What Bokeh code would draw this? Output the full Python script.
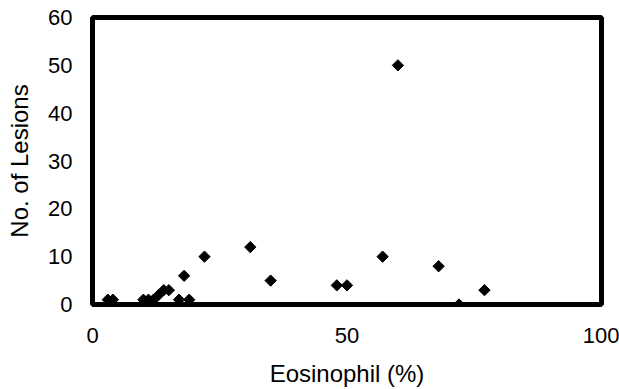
from bokeh.plotting import figure
from bokeh.models import FixedTicker, Range1d
from bokeh.embed import file_html
from bokeh.resources import INLINE
import math

# Data
eosinophil_pct = [3, 4, 10, 11, 12, 13, 14, 15, 17, 19,
                  18, 22, 31, 35, 48, 50, 57, 60, 68, 72, 77]
num_lesions = [1, 1, 1, 1, 1, 2, 3, 3, 1, 1,
               6, 10, 12, 5, 4, 4, 10, 50, 8, 0, 3]

x_ticks = [0, 50, 100]
y_ticks = [0, 10, 20, 30, 40, 50, 60]

FONT = "Liberation Sans"

p = figure(width=619, height=389, output_backend="svg", toolbar_location=None,
           x_range=Range1d(0, 100), y_range=Range1d(0, 60),
           min_border_left=92, min_border_right=18, min_border_top=17, min_border_bottom=81)

p.scatter(eosinophil_pct, num_lesions, marker="square", angle=math.pi / 4, size=8,
          fill_color="black", line_color="black")

p.grid.visible = False
p.outline_line_color = "black"
p.outline_line_width = 5
p.outline_line_alpha = 1.0

for ax in (p.xaxis[0], p.yaxis[0]):
    ax.axis_line_color = None
    ax.major_tick_line_color = None
    ax.minor_tick_line_color = None
    ax.major_label_text_font = FONT
    ax.major_label_text_font_size = "22px"
    ax.major_label_text_color = "black"
    ax.axis_label_text_font = FONT
    ax.axis_label_text_font_size = "24px"
    ax.axis_label_text_font_style = "normal"
    ax.axis_label_text_color = "black"

p.xaxis.ticker = FixedTicker(ticks=x_ticks)
p.yaxis.ticker = FixedTicker(ticks=y_ticks)
p.xaxis.axis_label = "Eosinophil (%)"
p.yaxis.axis_label = "No. of Lesions"
p.xaxis.major_label_standoff = 17
p.yaxis.major_label_standoff = 14
p.xaxis.axis_label_standoff = 14
p.yaxis.axis_label_standoff = 12

open("out.html", "w").write(file_html(p, INLINE))
